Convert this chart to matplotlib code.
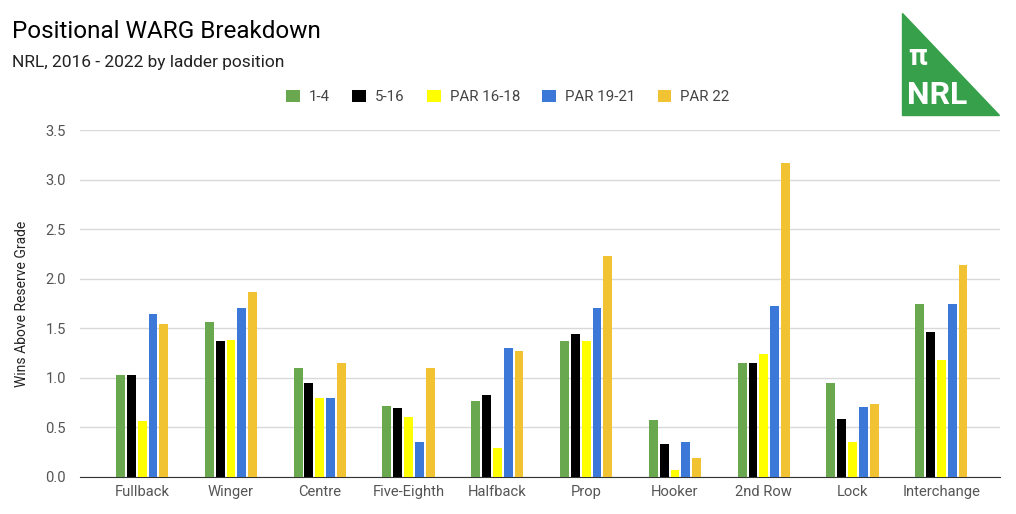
import numpy as np
import matplotlib.pyplot as plt
from matplotlib.patches import Polygon

plt.rcParams['font.family'] = ['Roboto', 'DejaVu Sans']

positions = ["Fullback", "Winger", "Centre", "Five-Eighth", "Halfback",
             "Prop", "Hooker", "2nd Row", "Lock", "Interchange"]
series_names = ["1-4", "5-16", "PAR 16-18", "PAR 19-21", "PAR 22"]
top4 = [1.03, 1.56, 1.10, 0.72, 0.77, 1.37, 0.57, 1.15, 0.95, 1.75]
mid = [1.03, 1.37, 0.95, 0.70, 0.83, 1.44, 0.33, 1.15, 0.58, 1.46]
par_16_18 = [0.56, 1.38, 0.80, 0.61, 0.29, 1.37, 0.07, 1.24, 0.35, 1.18]
par_19_21 = [1.64, 1.70, 0.80, 0.35, 1.30, 1.70, 0.35, 1.72, 0.71, 1.75]
par_22 = [1.54, 1.87, 1.15, 1.10, 1.27, 2.23, 0.19, 3.17, 0.74, 2.14]
colors = ["#6aa84f", "#000000", "#ffff00", "#3c78d8", "#f1c232"]

fig = plt.figure(figsize=(10.16, 5.14), dpi=100)
ax = fig.add_axes([80 / 1016, 1 - 477 / 514, 920 / 1016, 347 / 514])

x = np.arange(len(positions))
width = 0.10
step = 0.122
all_series = [top4, mid, par_16_18, par_19_21, par_22]
for i, (vals, col, name) in enumerate(zip(all_series, colors, series_names)):
    ax.bar(x + (i - 2) * step, vals, width, color=col, label=name, zorder=3)

ax.set_xlim(-0.70, len(positions) - 0.34)
ax.set_ylim(0, 3.5)
ax.set_yticks(np.arange(0, 3.51, 0.5))
ax.set_yticklabels(["%.1f" % v for v in np.arange(0, 3.51, 0.5)])
ax.set_xticks(x)
ax.set_xticklabels(positions)
ax.grid(axis="y", color="#d9d9d9", linewidth=1, zorder=0)
for s in ["top", "right", "left"]:
    ax.spines[s].set_visible(False)
ax.spines["bottom"].set_color("#333333")
ax.tick_params(axis="both", length=0, labelsize=10.6, colors="#555555")
ax.tick_params(axis="x", pad=6)
ax.tick_params(axis="y", pad=10)
ax.set_ylabel("Wins Above Reserve Grade", fontsize=10, color="#222222", labelpad=12)

fig.text(12 / 1016, 1 - 32 / 514, "Positional WARG Breakdown", fontsize=17.5,
         color="#000000", va="center")
fig.text(12 / 1016, 1 - 62 / 514, "NRL, 2016 - 2022 by ladder position", fontsize=12.5,
         color="#222222", va="center")

leg = fig.legend(loc="center", bbox_to_anchor=(508 / 1016, 1 - 97 / 514), ncol=5,
                 frameon=False, fontsize=10.8, handlelength=0.9, handleheight=0.9,
                 columnspacing=1.5, handletextpad=0.6)
for t in leg.get_texts():
    t.set_color("#444444")

# logo
fig.patches.append(Polygon([[902 / 1016, 1 - 13 / 514], [902 / 1016, 1 - 115 / 514],
                            [999 / 1016, 1 - 115 / 514]], closed=True, color="#36a04a",
                           transform=fig.transFigure))
fig.text(908 / 1016, 1 - 57 / 514, "π", fontsize=21, fontweight="bold", color="white",
         va="center", ha="left")
fig.text(907 / 1016, 1 - 95 / 514, "NRL", fontsize=23, fontweight="bold", color="white",
         va="center", ha="left")

fig.savefig("out.png", dpi=100)
